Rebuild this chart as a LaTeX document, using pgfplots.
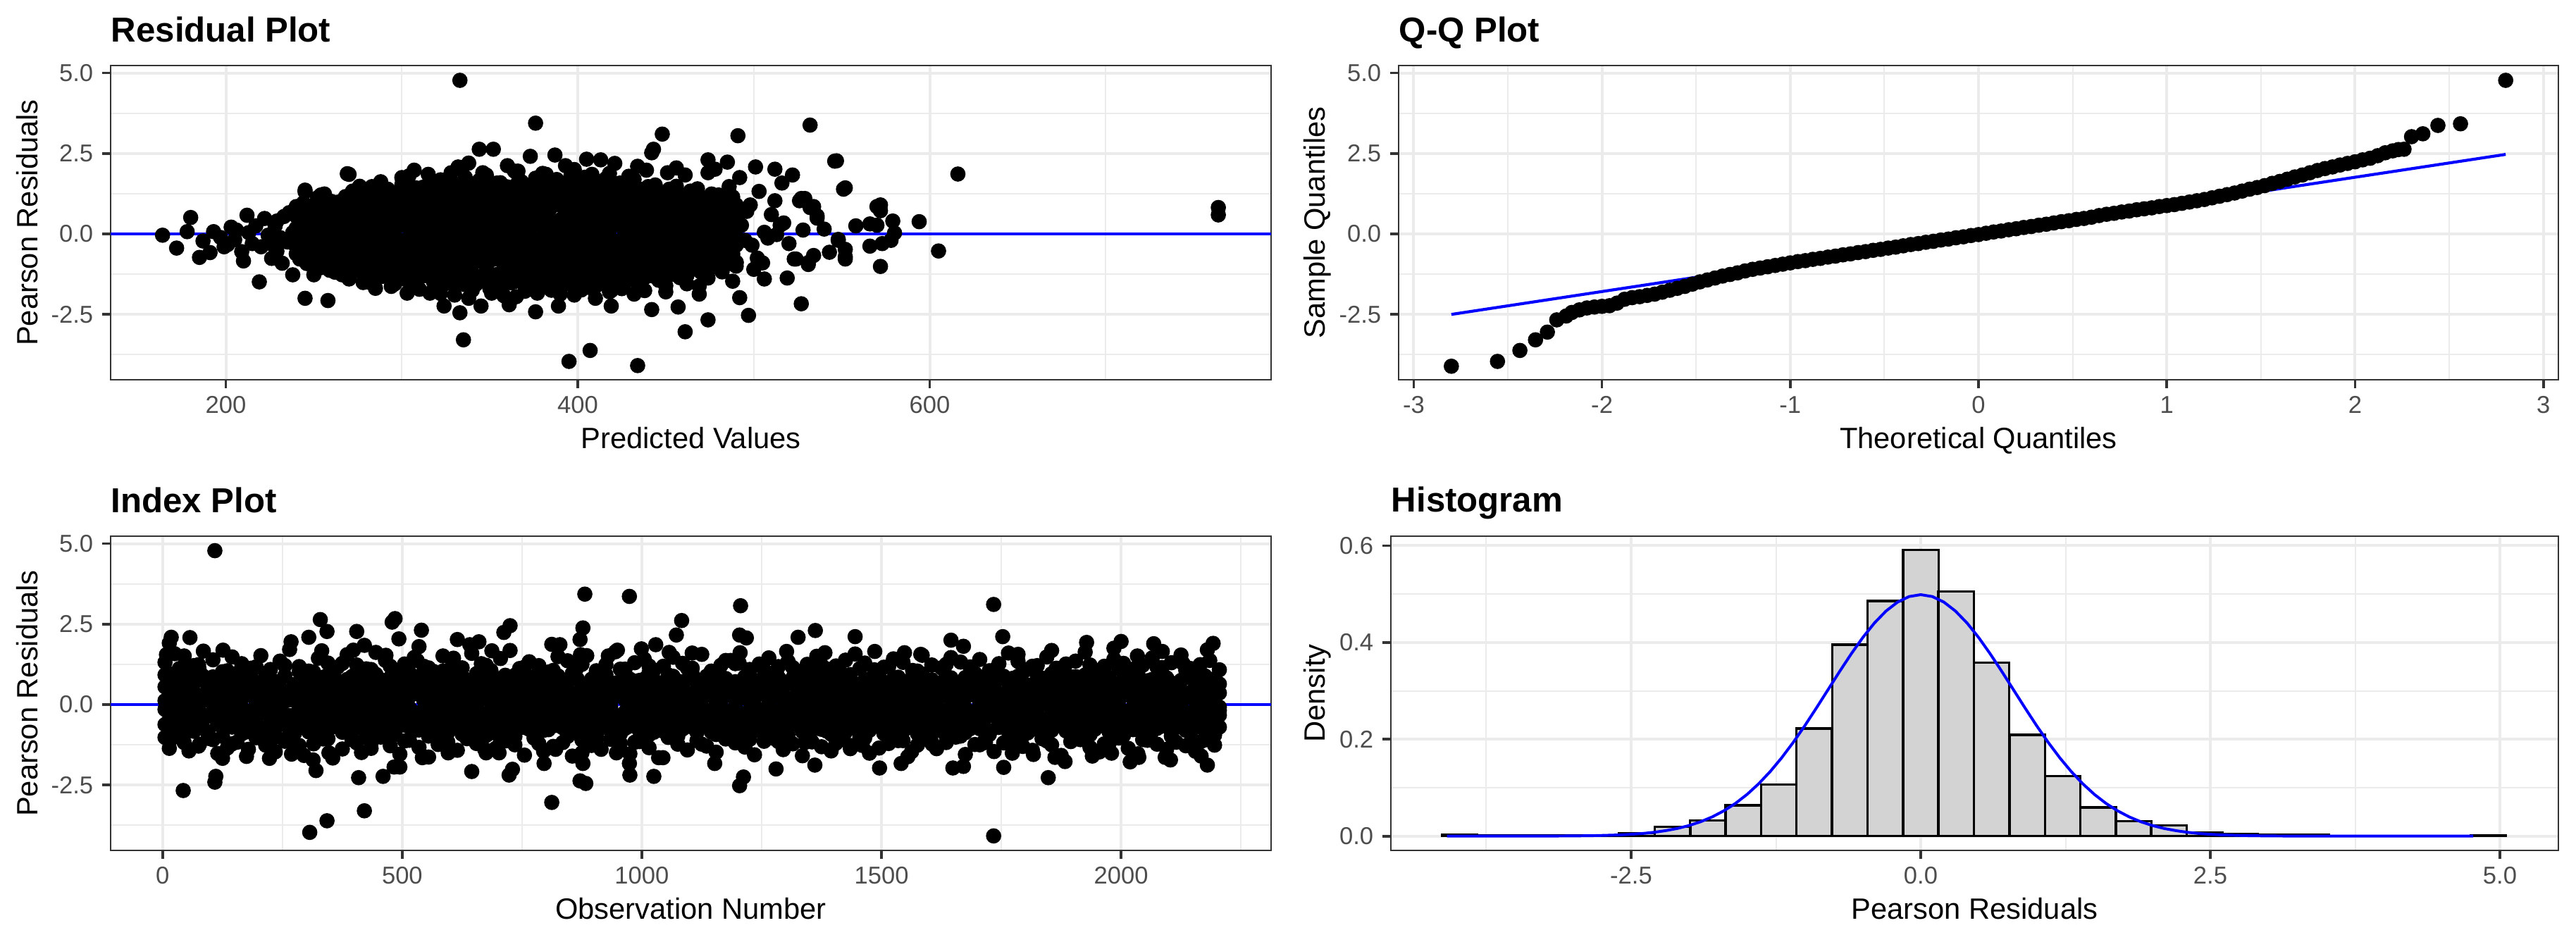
\documentclass[border=0pt]{standalone}
\usepackage{fontspec}
\setmainfont{Liberation Sans}
\usepackage{pgfplots}
\usepackage{pgfplotstable}
\pgfplotsset{compat=1.18}
\definecolor{grid92}{HTML}{EBEBEB}
\definecolor{grey20}{HTML}{333333}
\definecolor{grey30}{HTML}{4D4D4D}
\definecolor{histfill}{HTML}{D3D3D3}
\definecolor{rblue}{HTML}{0000FF}

\pgfplotsset{
  ggpanel/.style={
    scale only axis, anchor=south west, height=107.04pt,
    axis line style={draw=grey20, line width=0.6pt},
    tick pos=left, tick align=outside,
    major tick length=2.88pt, minor tick length=0pt,
    tick style={draw=grey20, line width=0.9pt},
    grid=both,
    major grid style={draw=grid92, line width=0.95pt},
    minor grid style={draw=grid92, line width=0.48pt},
    tick label style={font=\fontsize{8.3}{9}\selectfont, text=grey30, inner sep=0pt},
    xticklabel shift=2.64pt, yticklabel shift=2.88pt,
    label style={font=\fontsize{9.8}{11}\selectfont},
    title style={font=\bfseries\fontsize{11.8}{13}\selectfont, inner sep=0pt, anchor=base west, at={([yshift=2.16pt]axis description cs:0,1)}},
    every axis x label/.style={at={([yshift=-23.52pt]axis description cs:0.5,0)}, anchor=base, inner sep=0pt},
  },
  ylab/.style={every axis y label/.style={at={([xshift=-#1]axis description cs:0,0.5)}, anchor=base, rotate=90, inner sep=0pt}},
  pts/.style={only marks, mark=*, mark size=2.4pt, mark options={draw=none, fill=black}},
}

% Residual plot: predicted value, several residuals observed near that predicted value
\pgfplotstableread{
x a b c d e f g h
240 -0.62 -0.21 0.18 0.55 -0.40 0.85 -0.35 0.70
242 -0.74 -0.33 0.09 0.71 0.30 -0.78 -0.12 0.28
244 -0.48 -0.12 0.35 0.43 -0.66 0.96 -0.77 0.60
246 -0.69 -0.40 0.24 0.63 0.51 -0.92 -0.28 0.05
248 -0.55 -0.05 0.41 0.77 -0.18 0.74 -0.64 0.49
250 -0.79 -0.28 0.13 0.48 0.66 -0.70 -0.05 0.78
252 -0.93 -0.44 0.27 0.81 -0.52 1.12 -0.71 0.43
254 -0.58 -0.17 0.49 0.62 0.85 -1.05 -0.33 0.97
256 -0.81 -0.52 0.05 0.95 -0.09 1.24 -0.95 0.16
258 -0.66 -0.09 0.38 0.53 0.37 -0.94 -0.20 0.70
260 -0.99 -0.36 0.21 0.74 -0.76 1.01 -0.56 0.32
262 -0.50 -0.24 0.52 0.88 0.12 -1.19 -0.85 0.08
264 -0.87 -0.47 0.14 0.59 -0.33 0.90 -0.13 0.99
266 -1.12 -0.31 0.44 0.97 0.68 -1.27 -0.62 0.52
268 -0.70 -0.58 0.11 1.16 -0.95 1.05 -0.98 0.27
270 -0.95 -0.13 0.60 0.61 0.22 -1.40 -0.30 1.05
272 -1.18 -0.45 0.29 0.84 -0.51 1.33 -0.77 0.15
274 -0.60 -0.02 0.51 1.07 1.02 -1.10 -0.08 0.79
276 -0.88 -0.62 0.07 0.72 -0.15 1.48 -1.15 0.40
278 -1.05 -0.26 0.39 1.19 0.47 -1.22 -0.45 0.95
280 -0.77 -0.50 0.63 0.57 -1.08 1.15 -0.88 0.07
282 -1.28 -0.38 0.19 0.95 0.80 -1.51 -0.19 1.10
284 -0.66 -0.69 0.46 1.31 -0.36 1.20 -1.08 0.60
286 -1.02 -0.11 0.72 0.66 0.09 -1.30 -0.55 0.23
288 -1.33 -0.57 0.02 1.12 -0.82 1.62 -0.86 0.92
290 -0.79 -0.24 0.55 0.78 1.21 -1.18 -0.27 1.31
292 -1.15 -0.73 0.31 1.25 -0.55 1.39 -1.30 0.42
294 -0.91 -0.06 0.68 0.62 0.36 -1.63 -0.64 0.12
296 -1.24 -0.46 0.13 1.04 -1.17 1.28 -0.04 0.80
298 -0.70 -0.31 0.49 0.89 0.64 -1.22 -0.97 1.18
300 -1.07 -0.65 0.74 1.34 -0.23 1.53 -0.38 0.55
302 -1.41 -0.19 0.26 0.80 0.98 -1.37 -1.20 0.33
304 -0.82 -0.77 0.58 1.22 -0.71 1.80 -0.50 1.02
306 -1.19 -0.40 0.04 0.99 0.17 -1.58 -0.90 1.40
308 -1.48 -0.09 0.81 1.43 -1.32 1.34 -0.15 0.18
310 -0.93 -0.61 0.38 0.72 0.54 -1.72 -1.35 0.62
312 -1.30 -0.28 0.66 1.11 -0.42 1.45 -0.70 1.25
314 -0.74 -0.81 0.15 1.38 1.28 -1.30 -0.25 0.45
316 -1.11 -0.02 0.49 0.86 -0.88 1.66 -1.05 0.88
318 -1.45 -0.53 0.77 1.29 0.31 -1.49 -0.60 0.10
320 -0.87 -0.35 0.22 0.96 -0.06 1.38 -1.46 1.45
322 -1.24 -0.72 0.55 1.48 1.14 -1.85 -0.35 0.70
324 -1.56 -0.14 0.85 0.79 -0.61 1.42 -0.98 0.30
326 -0.81 -0.46 0.10 1.19 0.43 -1.40 -1.52 1.30
328 -1.37 -0.86 0.64 1.57 -1.29 1.90 -0.15 0.95
330 -1.02 -0.23 0.33 0.88 0.72 -1.62 -0.75 1.55
332 -1.50 -0.60 0.79 1.35 -0.27 1.51 -1.20 0.20
334 -0.76 -0.05 0.18 1.04 1.39 -1.46 -0.45 0.62
336 -1.19 -0.78 0.51 1.52 -0.84 1.76 -1.58 1.12
338 -1.59 -0.37 0.88 0.74 0.12 -2.00 -0.05 0.40
340 -0.95 -0.19 0.27 1.27 -1.47 1.44 -0.92 1.48
342 -1.31 -0.66 0.70 0.92 0.59 -1.57 -1.40 0.85
344 -0.84 -0.31 0.03 1.42 -0.39 1.66 -0.58 0.12
346 -1.46 -0.84 0.46 1.13 1.06 -1.41 -0.22 1.22
348 -1.07 -0.10 0.83 0.80 -0.98 1.83 -1.30 0.55
350 -1.55 -0.52 0.21 1.55 0.35 -1.70 -0.80 0.98
352 -0.79 -0.71 0.62 1.01 -0.12 1.47 -1.55 0.28
354 -1.26 -0.26 0.37 1.34 1.23 -1.49 -0.12 1.58
356 -1.60 -0.58 0.90 0.76 -0.69 1.59 -0.65 0.75
358 -0.98 -0.03 0.14 1.21 0.81 -1.92 -1.12 0.15
360 -1.36 -0.80 0.56 1.46 -1.18 1.41 -0.40 1.05
362 -0.86 -0.41 0.75 0.87 0.26 -1.52 -1.48 1.42
364 -1.48 -0.17 0.30 1.09 -0.47 1.95 -0.90 0.50
366 -1.13 -0.67 0.86 1.59 1.31 -1.44 -0.28 0.22
368 -0.77 -0.35 0.08 0.94 -0.91 1.62 -1.36 1.28
370 -1.42 -0.88 0.48 1.38 0.50 -1.78 -0.62 0.88
372 -1.03 -0.12 0.69 0.82 -0.22 1.50 -1.58 0.08
374 -1.57 -0.55 0.24 1.25 1.09 -1.60 -0.18 0.68
376 -0.90 -0.29 0.81 1.50 -1.36 1.73 -1.02 1.18
378 -1.28 -0.74 0.40 0.78 0.67 -1.46 -0.50 0.35
380 -0.82 -0.07 0.61 1.16 -0.55 1.88 -1.25 1.52
382 -1.51 -0.47 0.17 1.44 0.18 -1.66 -0.85 0.60
384 -1.16 -0.63 0.77 0.90 -1.05 1.45 -0.08 1.35
386 -0.94 -0.21 0.35 1.31 1.36 -1.53 -1.45 0.18
388 -1.39 -0.82 0.91 1.02 -0.30 1.69 -0.70 0.95
390 -1.58 -0.38 0.05 1.56 0.44 -1.87 -0.32 1.25
392 -0.78 -0.15 0.53 0.85 -0.80 1.40 -1.18 0.42
394 -1.21 -0.69 0.72 1.29 1.19 -1.42 -1.55 0.70
396 -1.47 -0.27 0.26 1.07 -0.16 1.79 -0.60 1.55
398 -0.88 -0.56 0.84 0.77 0.63 -1.58 -0.95 0.25
400 -1.33 -0.09 0.42 1.47 -1.25 1.52 -0.20 1.10
402 -1.05 -0.77 0.66 0.97 0.29 -1.74 -1.40 0.80
404 -1.54 -0.33 0.11 1.36 -0.58 1.43 -0.75 0.05
406 -0.80 -0.61 0.79 1.18 1.02 -1.50 -1.28 1.45
408 -1.25 -0.20 0.34 0.81 -0.95 1.85 -0.42 0.58
410 -1.45 -0.85 0.59 1.53 0.08 -1.63 -1.00 1.00
412 -0.96 -0.43 0.87 1.10 -0.39 1.56 -1.56 0.30
414 -1.37 -0.01 0.19 0.88 1.27 -1.45 -0.55 1.28
416 -0.85 -0.70 0.68 1.40 -1.12 1.72 -0.25 0.82
418 -1.52 -0.36 0.45 0.95 0.55 -1.80 -1.15 0.12
420 -1.12 -0.54 0.80 1.23 -0.26 1.47 -0.82 1.40
422 -1.40 -0.23 0.31 0.72 0.91 -1.35 -0.30 0.55
424 -0.75 -0.66 0.62 1.33 -0.70 1.58 -1.25 1.05
426 -1.18 -0.11 0.15 1.02 0.38 -1.62 -0.68 0.25
428 -1.43 -0.48 0.74 0.79 -1.28 1.33 -0.10 1.35
430 -0.89 -0.72 0.43 1.41 1.15 -1.40 -1.40 0.65
432 -1.29 -0.30 0.09 1.12 -0.44 1.69 -0.55 0.95
434 -0.70 -0.57 0.70 0.74 0.21 -1.54 -1.00 0.15
436 -1.10 -0.04 0.52 1.29 -0.89 1.38 -0.22 1.25
438 -1.36 -0.62 0.26 0.97 0.69 -1.76 -0.80 0.45
440 -0.83 -0.39 0.79 1.44 -0.12 1.47 -1.30 1.10
442 -1.22 -0.15 0.46 0.69 1.02 -1.30 -0.40 0.30
444 -0.64 -0.58 0.12 1.18 -0.63 1.52 -1.05 0.95
446 -1.05 -0.32 0.66 0.91 0.30 -1.44 -0.15 1.20
448 -1.29 -0.70 0.28 1.26 -1.10 1.21 -0.70 0.60
450 -0.76 -0.08 0.55 0.75 0.83 -1.61 -1.22 0.10
452 -1.13 -0.50 0.03 1.07 -0.31 1.39 -0.52 1.00
454 -0.92 -0.27 0.71 1.30 1.17 -1.25 -0.95 0.40
456 -1.26 -0.64 0.37 0.62 -0.77 1.48 -0.30 1.15
458 -0.68 -0.19 0.50 1.00 0.14 -1.36 -1.18 0.75
460 -1.04 -0.43 0.21 0.86 -0.55 1.17 -0.65 0.30
462 -0.59 -0.10 0.58 0.55 0.92 -1.29 -0.20 0.95
464 -0.87 -0.55 0.33 1.08 -0.20 1.33 -1.00 0.62
466 -1.09 -0.22 0.06 0.71 0.61 -1.06 -0.45 1.05
468 -0.63 -0.48 0.52 0.93 -0.97 1.40 -0.85 0.15
470 -0.96 -0.05 0.40 1.05 0.27 -1.19 -0.10 0.75
472 -0.71 -0.38 0.16 0.63 -0.64 1.11 -1.05 0.45
474 -1.01 -0.58 0.57 0.88 0.78 -1.37 -0.35 1.00
476 -0.55 -0.16 0.29 0.99 -0.41 1.24 -0.80 0.20
478 -0.70 -0.25 0.12 0.62 0.35 -1.02 -0.45 0.80
480 -0.52 -0.38 0.30 0.78 -0.80 0.95 -0.15 0.50
482 -0.85 -0.10 0.45 0.50 0.60 -1.10 -0.60 0.25
484 -0.45 -0.30 0.05 0.85 -0.20 1.05 -0.35 0.68
486 -0.78 -0.45 0.38 0.58 0.82 -0.92 -0.05 0.40
488 -0.60 -0.08 0.22 0.72 -0.65 1.15 -0.80 0.10
490 -0.88 -0.35 0.48 0.90 0.15 -1.00 -0.25 0.60
}\tabRes

% Index plot: observation number, several residuals near that observation
\pgfplotstableread{
x a b c d e g h
5 -0.62 0.12 0.55 -1.02 1.31 -0.15 0.92
15 -0.41 -0.22 0.78 0.95 -1.12 -0.88 0.21
25 -0.77 0.31 0.36 -0.48 1.58 -0.47 0.63
35 -0.33 -0.05 0.61 1.12 -0.98 -0.96 0.08
45 -0.58 0.19 0.84 -1.18 1.07 -0.29 0.47
55 -0.81 -0.29 0.42 0.27 -1.44 -0.63 0.99
65 -0.27 0.08 0.69 -0.83 1.21 -0.08 0.34
75 -0.69 -0.14 0.29 1.24 -1.29 -0.74 0.76
85 -0.46 0.26 0.88 -0.35 1.66 -0.39 0.13
95 -0.84 -0.33 0.51 0.71 -1.05 -0.91 0.55
105 -0.38 0.02 0.73 -1.09 1.39 -0.21 0.86
115 -0.55 0.34 0.33 0.46 -1.52 -0.57 0.29
125 -0.72 -0.18 0.64 -0.66 1.02 -0.99 0.68
135 -0.29 0.15 0.47 1.05 -1.35 -0.33 0.05
145 -0.64 -0.26 0.86 -1.22 1.48 -0.70 0.41
155 -0.51 0.22 0.39 0.18 -1.17 -0.12 0.97
165 -0.79 -0.09 0.58 -0.91 1.27 -0.52 0.18
175 -0.35 0.29 0.76 0.88 -1.61 -0.85 0.59
185 -0.66 -0.31 0.31 -0.24 1.13 -0.26 0.83
195 -0.43 0.05 0.67 1.17 -1.03 -0.66 0.24
205 -0.83 -0.20 0.45 -0.73 1.52 -0.05 0.51
215 -0.26 0.32 0.82 0.39 -1.26 -0.79 0.95
225 -0.60 -0.11 0.35 -1.14 1.09 -0.43 0.10
235 -0.74 0.17 0.71 0.62 -1.47 -0.95 0.72
245 -0.31 -0.27 0.53 -0.42 1.35 -0.18 0.38
255 -0.57 0.10 0.89 1.21 -1.14 -0.61 0.88
265 -0.80 -0.34 0.40 -0.97 1.71 -0.36 0.15
275 -0.40 0.24 0.62 0.13 -1.31 -0.90 0.62
285 -0.68 -0.02 0.27 -1.27 1.18 -0.10 1.02
295 -0.49 0.30 0.79 0.82 -1.58 -0.55 0.27
305 -0.85 -0.16 0.49 -0.58 1.04 -0.77 0.80
315 -0.30 0.07 0.66 1.01 -1.22 -0.24 0.45
325 -0.63 -0.24 0.37 -0.19 1.44 -0.97 0.07
335 -0.45 0.27 0.85 0.54 -1.07 -0.45 0.66
345 -0.76 -0.07 0.56 -1.06 1.29 -0.14 0.92
355 -0.36 0.13 0.30 0.93 -1.66 -0.69 0.32
365 -0.59 -0.30 0.74 -0.37 1.16 -0.31 0.56
375 -0.82 0.21 0.43 1.28 -1.38 -0.86 0.11
385 -0.28 -0.12 0.63 -0.85 1.55 -0.50 0.78
395 -0.53 0.33 0.87 0.31 -1.09 -0.07 0.22
405 -0.71 -0.21 0.34 -1.19 1.23 -0.73 1.00
415 -0.42 0.04 0.70 0.67 -1.49 -0.41 0.48
425 -0.67 0.25 0.52 -0.52 1.11 -0.93 0.19
435 -0.32 -0.28 0.80 1.09 -1.19 -0.20 0.70
445 -0.78 0.11 0.38 -0.29 1.62 -0.59 0.94
455 -0.48 -0.19 0.60 0.77 -1.01 -0.82 0.36
465 -0.61 0.28 0.28 -0.94 1.37 -0.16 0.61
475 -0.37 -0.04 0.83 1.19 -1.28 -0.48 0.06
485 -0.84 0.18 0.46 -0.62 1.08 -0.94 0.84
495 -0.52 -0.32 0.68 0.41 -1.54 -0.27 0.40
505 -0.25 0.09 0.41 -1.13 1.26 -0.64 0.99
515 -0.70 -0.15 0.77 0.99 -1.11 -0.11 0.25
525 -0.44 0.35 0.57 -0.46 1.46 -0.80 0.57
535 -0.79 -0.25 0.32 0.58 -1.33 -0.37 0.87
545 -0.34 0.14 0.72 -0.79 1.19 -0.58 0.14
555 -0.65 -0.06 0.48 1.14 -1.63 -0.98 0.46
565 -0.50 0.23 0.84 -0.21 1.03 -0.22 0.74
575 -0.83 -0.35 0.36 0.84 -1.24 -0.68 0.31
585 -0.39 0.01 0.65 -1.24 1.51 -0.44 1.04
595 -0.56 0.29 0.44 0.22 -1.16 -0.87 0.09
605 -0.73 -0.13 0.81 -0.68 1.32 -0.13 0.65
615 -0.29 0.19 0.54 1.03 -1.42 -0.53 0.37
625 -0.62 -0.23 0.29 -0.33 1.14 -0.92 0.89
635 -0.47 0.06 0.75 0.66 -1.06 -0.30 0.17
645 -0.81 0.32 0.50 -1.01 1.59 -0.06 0.53
655 -0.33 -0.10 0.63 0.37 -1.21 -0.75 0.96
665 -0.58 0.16 0.88 -0.55 1.27 -0.40 0.26
675 -0.75 -0.29 0.39 1.22 -1.50 -0.96 0.71
685 -0.41 0.26 0.59 -0.88 1.06 -0.17 0.12
695 -0.69 -0.01 0.78 0.15 -1.36 -0.62 0.82
705 -0.27 0.12 0.33 -1.16 1.43 -0.84 0.43
715 -0.54 -0.33 0.69 0.91 -1.13 -0.25 0.64
725 -0.85 0.20 0.47 -0.40 1.68 -0.49 0.08
735 -0.36 -0.17 0.82 0.72 -1.25 -0.99 0.91
745 -0.64 0.34 0.37 -0.72 1.12 -0.09 0.35
755 -0.46 -0.08 0.61 1.16 -1.57 -0.71 0.58
765 -0.77 0.24 0.86 -0.26 1.33 -0.35 0.19
775 -0.31 -0.26 0.42 0.49 -1.04 -0.89 0.77
785 -0.60 0.03 0.66 -1.21 1.21 -0.19 1.01
795 -0.80 0.30 0.31 0.80 -1.45 -0.56 0.28
805 -0.43 -0.20 0.74 -0.61 1.01 -0.78 0.50
815 -0.66 0.13 0.55 1.06 -1.30 -0.04 0.85
825 -0.26 -0.31 0.89 -0.16 1.49 -0.65 0.16
835 -0.72 0.21 0.40 0.58 -1.18 -0.42 0.69
845 -0.52 -0.05 0.70 -0.99 1.36 -0.95 0.39
855 -0.84 0.27 0.35 0.34 -1.60 -0.23 0.97
865 -0.37 -0.14 0.80 -0.45 1.15 -0.60 0.04
875 -0.61 0.08 0.52 1.25 -1.10 -0.83 0.60
885 -0.45 -0.27 0.64 -0.81 1.52 -0.14 0.33
895 -0.78 0.33 0.28 0.63 -1.27 -0.51 0.79
905 -0.30 -0.09 0.76 -1.10 1.05 -0.97 0.23
915 -0.68 0.18 0.46 0.95 -1.39 -0.32 0.54
925 -0.49 -0.22 0.83 -0.30 1.24 -0.72 0.93
935 -0.82 0.05 0.38 0.45 -1.08 -0.08 0.13
945 -0.35 0.29 0.67 -0.70 1.64 -0.46 0.67
955 -0.57 -0.34 0.51 1.10 -1.20 -0.91 0.44
965 -0.74 0.15 0.87 -0.23 1.10 -0.28 0.86
975 -0.40 -0.11 0.34 0.79 -1.53 -0.67 0.10
985 -0.63 0.25 0.72 -1.17 1.30 -0.12 0.52
995 -0.28 -0.24 0.45 0.26 -1.15 -0.81 0.75
1005 -0.80 0.07 0.79 -0.51 1.41 -0.38 0.30
1015 -0.50 0.31 0.58 1.20 -1.34 -0.94 0.98
1025 -0.67 -0.18 0.30 -0.86 1.07 -0.21 0.21
1035 -0.38 0.10 0.68 0.53 -1.65 -0.57 0.63
1045 -0.83 -0.29 0.49 -0.38 1.19 -0.76 0.06
1055 -0.44 0.22 0.85 0.92 -1.02 -0.06 0.42
1065 -0.59 -0.03 0.36 -1.03 1.47 -0.43 0.88
1075 -0.32 0.35 0.73 0.19 -1.23 -0.98 0.27
1085 -0.76 -0.16 0.56 -0.64 1.28 -0.30 0.71
1095 -0.54 0.12 0.27 1.13 -1.41 -0.63 0.15
1105 -0.70 -0.25 0.81 -0.18 1.13 -0.11 0.95
1115 -0.27 0.20 0.43 0.70 -1.12 -0.86 0.48
1125 -0.64 -0.07 0.65 -1.23 1.56 -0.48 0.20
1135 -0.47 0.28 0.88 0.36 -1.29 -0.18 0.61
1145 -0.85 -0.32 0.39 -0.78 1.04 -0.70 1.03
1155 -0.39 0.04 0.62 1.01 -1.48 -0.93 0.34
1165 -0.62 0.17 0.47 -0.43 1.22 -0.26 0.09
1175 -0.79 -0.21 0.77 0.60 -1.07 -0.54 0.81
1185 -0.34 0.30 0.32 -0.92 1.37 -0.80 0.55
1195 -0.56 -0.12 0.71 1.27 -1.19 -0.07 0.17
1205 -0.73 0.23 0.53 -0.27 1.61 -0.44 0.64
1215 -0.42 -0.28 0.86 0.85 -1.32 -0.97 0.40
1225 -0.66 0.09 0.35 -1.08 1.09 -0.34 0.90
1235 -0.29 -0.04 0.60 0.44 -1.56 -0.68 0.24
1245 -0.81 0.32 0.75 -0.57 1.26 -0.15 0.50
1255 -0.48 -0.19 0.41 1.08 -1.14 -0.88 0.74
1265 -0.60 0.14 0.69 -0.34 1.45 -0.52 0.05
1275 -0.36 -0.30 0.50 0.76 -1.05 -0.23 0.97
1285 -0.77 0.26 0.84 -1.15 1.18 -0.73 0.37
1295 -0.53 -0.08 0.31 0.28 -1.40 -0.40 0.58
1305 -0.69 0.19 0.66 -0.69 1.34 -0.96 0.14
1315 -0.31 -0.23 0.80 1.15 -1.22 -0.10 0.83
1325 -0.63 0.02 0.45 -0.20 1.02 -0.61 0.45
1335 -0.84 0.33 0.57 0.69 -1.59 -0.29 0.22
1345 -0.40 -0.15 0.73 -0.95 1.25 -0.83 0.69
1355 -0.58 0.11 0.37 0.32 -1.16 -0.47 1.00
1365 -0.74 -0.26 0.87 -0.49 1.50 -0.05 0.31
1375 -0.33 0.27 0.54 1.22 -1.31 -0.77 0.60
1385 -0.65 -0.02 0.29 -0.82 1.11 -0.36 0.11
1395 -0.46 0.16 0.78 0.55 -1.44 -0.92 0.87
1405 -0.82 -0.33 0.48 -1.20 1.20 -0.20 0.43
1415 -0.37 0.08 0.67 0.98 -1.09 -0.58 0.66
1425 -0.55 0.29 0.40 -0.25 1.38 -0.85 0.18
1435 -0.71 -0.20 0.82 0.43 -1.27 -0.13 0.93
1445 -0.28 0.13 0.59 -0.74 1.57 -0.50 0.35
1455 -0.61 -0.10 0.34 1.12 -1.03 -0.99 0.57
1465 -0.49 0.24 0.76 -1.04 1.29 -0.27 0.08
1475 -0.80 -0.27 0.52 0.20 -1.51 -0.66 0.79
1485 -0.35 0.06 0.89 -0.40 1.08 -0.42 0.47
1495 -0.67 0.31 0.38 0.87 -1.35 -0.09 0.99
1505 -0.43 -0.13 0.64 -0.90 1.16 -0.79 0.26
1515 -0.76 0.21 0.46 1.18 -1.21 -0.33 0.62
1525 -0.30 -0.34 0.81 -0.31 1.42 -0.95 0.13
1535 -0.57 0.03 0.33 0.61 -1.12 -0.55 0.85
1545 -0.83 0.18 0.70 -1.12 1.31 -0.17 0.39
1555 -0.41 -0.22 0.56 0.29 -1.62 -0.72 0.70
1565 -0.64 0.10 0.85 -0.60 1.06 -0.39 0.03
1575 -0.26 0.34 0.43 1.04 -1.26 -0.90 0.53
1585 -0.72 -0.06 0.63 -0.37 1.53 -0.24 0.95
1595 -0.51 0.22 0.30 0.74 -1.08 -0.62 0.29
1605 -0.79 -0.30 0.77 -1.18 1.23 -0.06 0.76
1615 -0.38 0.14 0.51 0.40 -1.37 -0.81 0.16
1625 -0.60 -0.17 0.68 -0.80 1.14 -0.45 0.49
1635 -0.45 0.28 0.36 1.25 -1.18 -0.98 0.89
1645 -0.85 0.00 0.83 -0.22 1.46 -0.31 0.23
1655 -0.32 -0.24 0.48 0.65 -1.01 -0.69 0.61
1665 -0.68 0.19 0.62 -0.98 1.32 -0.14 0.07
1675 -0.50 -0.11 0.27 0.35 -1.55 -0.87 0.84
1685 -0.75 0.30 0.74 -0.53 1.17 -0.49 0.41
1695 -0.36 -0.29 0.58 0.89 -1.24 -0.22 0.97
1705 -0.62 0.07 0.86 -1.25 1.40 -0.75 0.19
1715 -0.44 0.23 0.40 0.50 -1.13 -0.41 0.55
1725 -0.81 -0.18 0.71 -0.35 1.05 -0.93 0.78
1735 -0.29 0.12 0.55 1.07 -1.46 -0.11 0.33
1745 -0.58 -0.32 0.32 -0.71 1.27 -0.64 0.05
1755 -0.70 0.26 0.80 0.24 -1.19 -0.34 0.88
1765 -0.40 -0.04 0.44 -1.07 1.60 -0.84 0.46
1775 -0.66 0.17 0.67 0.82 -1.10 -0.19 0.68
1785 -0.33 -0.21 0.88 -0.28 1.34 -0.56 0.14
1795 -0.84 0.33 0.35 0.57 -1.30 -0.97 1.01
1805 -0.52 -0.09 0.61 -0.88 1.09 -0.28 0.37
1815 -0.77 0.20 0.49 1.19 -1.42 -0.71 0.59
1825 -0.27 -0.26 0.79 -0.44 1.21 -0.08 0.20
1835 -0.63 0.05 0.38 0.71 -1.06 -0.53 0.82
1845 -0.47 0.31 0.65 -1.13 1.48 -0.89 0.44
1855 -0.80 -0.14 0.53 0.16 -1.25 -0.37 0.96
1865 -0.35 0.15 0.84 -0.63 1.13 -0.60 0.10
1875 -0.59 -0.30 0.29 1.00 -1.58 -0.16 0.63
1885 -0.73 0.24 0.73 -0.19 1.26 -0.82 0.32
1895 -0.42 -0.07 0.46 0.46 -1.15 -0.44 0.86
1905 -0.65 0.11 0.87 -1.01 1.35 -0.03 0.25
1915 -0.31 -0.23 0.41 0.84 -1.09 -0.78 0.51
1925 -0.82 0.28 0.60 -0.50 1.63 -0.32 0.92
1935 -0.54 -0.02 0.76 1.23 -1.33 -0.94 0.15
1945 -0.69 0.18 0.33 -0.77 1.07 -0.25 0.72
1955 -0.38 -0.33 0.69 0.33 -1.47 -0.67 0.38
1965 -0.61 0.09 0.52 -1.22 1.19 -0.12 0.99
1975 -0.85 0.25 0.82 0.66 -1.20 -0.51 0.04
1985 -0.46 -0.16 0.39 -0.32 1.41 -0.86 0.65
1995 -0.71 0.13 0.63 1.11 -1.04 -0.38 0.28
2005 -0.28 -0.27 0.47 -0.86 1.28 -0.96 0.81
2015 -0.57 0.32 0.85 0.52 -1.36 -0.20 0.47
2025 -0.78 -0.10 0.30 -0.41 1.10 -0.65 0.17
2035 -0.41 0.21 0.72 0.94 -1.53 -0.46 0.91
2045 -0.64 -0.25 0.57 -1.09 1.22 -0.09 0.35
2055 -0.34 0.04 0.35 0.38 -1.11 -0.88 0.74
2065 -0.83 0.29 0.78 -0.66 1.45 -0.30 0.12
2075 -0.49 -0.19 0.50 1.16 -1.23 -0.74 0.58
2085 -0.67 0.16 0.66 -0.24 1.15 -0.55 0.97
2095 -0.30 -0.31 0.83 0.78 -1.39 -0.15 0.22
2105 -0.74 0.08 0.42 -0.96 1.30 -0.99 0.67
2115 -0.53 0.27 0.60 0.30 -1.17 -0.35 0.43
2125 -0.39 -0.12 0.75 -0.55 1.54 -0.70 0.06
2135 -0.80 0.22 0.37 1.06 -1.28 -0.23 0.84
2145 -0.60 -0.28 0.86 -0.83 1.12 -0.91 0.30
2155 -0.36 0.12 0.54 0.60 -1.45 -0.47 0.62
2165 -0.70 -0.05 0.68 -1.16 1.24 -0.10 0.95
2175 -0.44 0.30 0.31 0.89 -1.10 -0.80 0.18
2185 -0.82 -0.22 0.79 -0.38 1.37 -0.42 0.52
2195 -0.55 0.17 0.48 0.47 -1.26 -0.95 0.77
2205 -0.33 -0.08 0.64 -0.70 1.08 -0.18 0.36
}\tabIdx

\begin{document}
\begin{tikzpicture}
\useasboundingbox (0,0) rectangle (877.44pt,320.88pt);

% ---------------- Residual Plot ----------------
\begin{axis}[ggpanel, ylab=24.96pt, at={(37.68pt,191.52pt)}, width=395.28pt,
  xmin=134.5, xmax=794, ymin=-4.53, ymax=5.23,
  xtick={200,400,600}, xticklabels={200,400,600}, minor xtick={300,500,700},
  ytick={-2.5,0,2.5,5}, yticklabels={-2.5,0.0,2.5,5.0}, minor ytick={-3.75,-1.25,1.25,3.75},
  title={Residual Plot}, xlabel={Predicted Values}, ylabel={Pearson Residuals}]
\addplot[pts] table[x=x,y=a] {\tabRes};
\addplot[pts] table[x=x,y=b] {\tabRes};
\addplot[pts] table[x=x,y=c] {\tabRes};
\addplot[pts] table[x=x,y=d] {\tabRes};
\addplot[pts] table[x=x,y=e] {\tabRes};
\addplot[pts] table[x=x,y=f] {\tabRes};
\addplot[pts] table[x=x,y=g] {\tabRes};
\addplot[pts] table[x=x,y=h] {\tabRes};
\addplot[pts] coordinates {
(164,-0.04) (172,-0.44) (178,0.07) (180,0.51) (185,-0.73) (187,-0.22) (191,-0.58) (193,0.07) (197,-0.11) (199,-0.40)
(201,-0.33) (203,0.21) (205,-0.18) (206,0.12) (209,-0.55) (210,-0.84) (212,0.58) (213,0.04) (215,-0.30) (217,0.25)
(219,-1.49) (220,-0.40) (222,0.48) (224,-0.04) (226,-0.76) (227,-0.35) (228,0.25) (229,-0.54) (229,0.40) (231,-0.12)
(232,-0.91) (233,0.54) (235,-0.25) (236,0.66) (238,0.04) (238,-1.27) (240,0.76) (242,-0.76) (245,1.31) (245,0.91)
(245,-2.00) (250,-1.27) (254,1.16) (258,-2.07) (259,-1.13) (270,1.85) (283,1.47) (269,1.87) (245,1.36) (254,1.21)
(307,1.98) (322,1.68) (332,2.08) (346,1.90) (360,2.12) (373,2.41) (387,2.45) (393,2.12) (404,1.76) (405,2.32)
(413,2.30) (421,2.19) (429,1.79) (439,1.98) (442,2.52) (443,2.63) (451,1.90) (461,1.83) (474,1.90) (474,2.30)
(478,2.01) (485,2.23) (344,2.63) (352,2.63) (333,4.77) (376,3.44) (448,3.10) (491,3.05) (532,3.38) (300,1.75)
(315,1.85) (338,2.20) (366,1.95) (382,1.85) (398,2.00) (418,1.88) (434,2.10) (456,2.05)
(486,1.47) (480,1.21) (488,1.07) (496,0.70) (493,0.27) (501,2.08) (503,1.32) (506,0.05) (508,-0.13) (512,2.01)
(512,1.03) (515,0.27) (516,1.58) (517,0.34) (522,1.83) (526,1.03) (527,1.10) (528,0.12) (529,1.10) (534,0.85)
(536,0.56) (536,0.49) (532,0.82) (546,2.26) (547,2.27) (548,-0.17) (548,-0.20) (551,1.39) (552,1.43) (552,-0.71)
(552,-0.48) (552,-0.78) (543,-0.57) (534,-0.67) (531,-0.95) (523,-0.78) (527,-2.17) (513,-0.02) (566,-0.38) (566,0.31)
(570,0.27) (570,0.85) (572,0.90) (572,0.72) (572,-1.01) (573,-0.30) (578,-0.20) (579,0.40) (580,0.03) (594,0.38)
(605,-0.53) (616,1.86) (764,0.82) (764,0.59) (499,-0.35) (502,-0.75) (490,-0.89) (524,-0.78) (531,-0.89) (506,-1.40)
(519,-1.37) (497,-2.53) (492,-1.98) (488,-1.47) (482,-1.18) (490,0.50) (484,-0.40) (498,0.90) (505,-0.90) (510,0.60)
(495,-0.20) (480,0.75) (478,-0.65) (485,0.15) (492,1.75) (500,-1.10) (520,-0.30) (540,0.15) (558,0.25)
(474,-2.67) (461,-3.04) (407,-3.62) (395,-3.96) (434,-4.09) (335,-3.29) (457,-2.27) (442,-2.35) (419,-2.24) (376,-2.42)
(333,-2.45) (324,-2.24) (303,-1.84) (389,-2.24) (361,-2.20) (345,-2.24) (469,-1.87) (469,-1.62) (432,-1.87) (419,-1.76)
(406,-1.66) (377,-1.84) (351,-1.84) (316,-1.84) (285,-1.69) (278,-1.51) (296,-1.55) (330,-1.90) (365,-1.95) (398,-1.90)
(425,-1.70) (450,-1.80) (462,-1.55) (340,-1.75) (385,-1.75) (410,-2.00)
};
\addplot[rblue, line width=1pt] coordinates {(134.5,0) (794,0)};
\end{axis}

% ---------------- Q-Q Plot ----------------
\begin{axis}[ggpanel, ylab=25.2pt, at={(476.4pt,191.52pt)}, width=395.04pt,
  xmin=-3.08, xmax=3.08, ymin=-4.53, ymax=5.23,
  xtick={-3,-2,-1,0,1,2,3}, xticklabels={-3,-2,-1,0,1,2,3}, minor xtick={-2.5,-1.5,-0.5,0.5,1.5,2.5},
  ytick={-2.5,0,2.5,5}, yticklabels={-2.5,0.0,2.5,5.0}, minor ytick={-3.75,-1.25,1.25,3.75},
  title={Q-Q Plot}, xlabel={Theoretical Quantiles}, ylabel={Sample Quantiles}]
\addplot[pts] coordinates {
(-2.80,-4.11) (-2.555,-3.96) (-2.436,-3.62) (-2.353,-3.29) (-2.29,-3.05) (-2.24,-2.67) (-2.19,-2.55) (-2.16,-2.44) (-2.12,-2.36) (-2.08,-2.30)
(-2.04,-2.27) (-2.00,-2.25) (-1.96,-2.23) (-1.92,-2.15) (-1.88,-2.03) (-1.84,-1.98) (-1.80,-1.95) (-1.76,-1.91) (-1.72,-1.87) (-1.68,-1.81)
(-1.64,-1.75) (-1.60,-1.69) (-1.56,-1.63) (-1.52,-1.56) (-1.48,-1.49) (-1.44,-1.43) (-1.40,-1.37) (-1.36,-1.31) (-1.32,-1.26) (-1.28,-1.21)
(-1.24,-1.15) (-1.20,-1.10) (-1.16,-1.06) (-1.12,-1.02) (-1.08,-0.98) (-1.04,-0.94) (-1.00,-0.90) (-0.96,-0.86)
(-0.92,-0.83) (-0.88,-0.79) (-0.84,-0.76) (-0.80,-0.72) (-0.76,-0.69) (-0.72,-0.65) (-0.68,-0.62) (-0.64,-0.58) (-0.60,-0.55) (-0.56,-0.51)
(-0.52,-0.48) (-0.48,-0.44) (-0.44,-0.41) (-0.40,-0.37) (-0.36,-0.33) (-0.32,-0.30) (-0.28,-0.26) (-0.24,-0.23) (-0.20,-0.19) (-0.16,-0.16)
(-0.12,-0.12) (-0.08,-0.09) (-0.04,-0.05) (0.00,-0.02) (0.04,0.02) (0.08,0.06) (0.12,0.09) (0.16,0.13) (0.20,0.16) (0.24,0.20)
(0.28,0.23) (0.32,0.27) (0.36,0.30) (0.40,0.34) (0.44,0.38) (0.48,0.41) (0.52,0.45) (0.56,0.48) (0.60,0.52) (0.64,0.57)
(0.68,0.61) (0.72,0.64) (0.76,0.68) (0.80,0.71) (0.84,0.75) (0.88,0.78) (0.92,0.81) (0.96,0.85) (1.00,0.88) (1.04,0.91)
(1.08,0.95) (1.12,0.99) (1.16,1.03) (1.20,1.07) (1.24,1.12) (1.28,1.17) (1.32,1.22) (1.36,1.27) (1.40,1.33) (1.44,1.39)
(1.48,1.44) (1.52,1.50) (1.56,1.57) (1.60,1.63) (1.64,1.70) (1.68,1.77) (1.72,1.83) (1.76,1.90) (1.80,1.97) (1.84,2.03)
(1.88,2.08) (1.92,2.14) (1.96,2.19) (2.00,2.24) (2.04,2.30) (2.08,2.35) (2.12,2.43) (2.16,2.52) (2.20,2.58) (2.23,2.62)
(2.26,2.63) (2.30,3.02) (2.36,3.11) (2.44,3.37) (2.56,3.42) (2.80,4.77)
};
\addplot[rblue, line width=1pt] coordinates {(-2.80,-2.50) (2.80,2.47)};
\end{axis}

% ---------------- Index Plot ----------------
\begin{axis}[ggpanel, ylab=24.96pt, at={(37.68pt,31.2pt)}, width=395.28pt,
  xmin=-108.5, xmax=2313, ymin=-4.53, ymax=5.23,
  xtick={0,500,1000,1500,2000}, xticklabels={0,500,1000,1500,2000}, minor xtick={250,750,1250,1750,2250},
  ytick={-2.5,0,2.5,5}, yticklabels={-2.5,0.0,2.5,5.0}, minor ytick={-3.75,-1.25,1.25,3.75},
  title={Index Plot}, xlabel={Observation Number}, ylabel={Pearson Residuals}]
\addplot[pts] table[x=x,y=a] {\tabIdx};
\addplot[pts] table[x=x,y=b] {\tabIdx};
\addplot[pts] table[x=x,y=c] {\tabIdx};
\addplot[pts] table[x=x,y=d] {\tabIdx};
\addplot[pts] table[x=x,y=e] {\tabIdx};
\addplot[pts] table[x=x,y=g] {\tabIdx};
\addplot[pts] table[x=x,y=h] {\tabIdx};
\addplot[pts] coordinates {
(109,4.78) (14,1.91) (18,2.09) (8,1.55) (45,1.51) (57,2.08) (126,1.69) (76,1.11) (43,-2.67) (109,-2.41)
(111,-2.23) (14,-1.36) (77,-1.23) (125,-1.67) (223,-1.67) (179,-1.39) (268,1.95) (305,2.09) (329,2.64) (343,2.27)
(332,1.67) (405,2.27) (421,1.84) (398,1.69) (466,1.53) (479,2.56) (485,2.67) (493,2.04) (540,2.31) (535,1.80)
(531,1.37) (307,-3.97) (343,-3.61) (421,-3.30) (409,-2.27) (460,-2.23) (483,-1.94) (495,-1.94) (320,-2.05) (314,-1.72)
(269,-1.54) (347,-1.50) (435,-1.36) (542,-1.65) (596,-1.50) (615,2.02) (607,1.44) (641,1.86) (660,1.95) (687,1.67)
(712,2.24) (725,2.45) (645,-2.08) (672,-1.39) (702,-1.50) (723,-2.19) (730,-2.01) (796,-1.83) (812,-3.04) (820,-1.39)
(812,1.87) (829,1.86) (881,3.43) (877,2.38) (871,2.02) (872,1.55) (871,-2.37) (883,-2.45) (877,-1.83) (875,-1.50)
(974,3.36) (975,-2.19) (974,-1.83) (1025,-2.23) (930,1.51) (949,1.69) (999,1.73) (1029,1.86) (1072,2.16) (1083,2.61)
(1057,1.62) (1105,1.60) (1206,3.07) (1204,2.16) (1218,2.07) (1203,1.29) (1175,1.37) (1152,-1.83) (1204,-2.52) (1212,-2.25)
(1044,-1.65) (947,-1.50) (1734,3.11) (1362,2.30) (1326,2.09) (1445,2.11) (1753,2.11) (2000,1.96) (1645,2.00) (1928,1.93)
(2192,1.90) (1671,1.81) (1855,1.68) (1734,-4.08) (1280,-2.00) (1361,-1.88) (1496,-1.97) (1541,-1.83) (1649,-1.97) (1671,-1.92)
(1755,-1.95) (1848,-2.27) (1883,-1.77) (1940,-1.60) (2019,-1.78) (2180,-1.88) (2103,-1.72) (1302,1.65) (1382,1.61) (1486,1.65)
(1548,1.61) (1582,1.56) (1785,1.56) (1985,1.75) (2034,1.51) (2068,1.89) (2086,1.65) (2180,1.70) (2129,1.28) (1460,-1.27)
(1563,-1.46) (1717,-1.18) (1773,-1.51) (1817,-1.55) (1862,-1.64) (1980,-1.51) (2037,-1.64) (2092,-1.64) (2141,-1.27) (2167,-1.60)
(1435,-1.37) (1340,-1.18) (1606,-1.23)
};
\addplot[rblue, line width=1pt] coordinates {(-108.5,0) (2313,0)};
\end{axis}

% ---------------- Histogram ----------------
\begin{axis}[ggpanel, ylab=22.56pt, at={(473.76pt,31.2pt)}, width=397.68pt,
  xmin=-4.574, xmax=5.505, ymin=-0.0295, ymax=0.6195,
  xtick={-2.5,0,2.5,5}, xticklabels={-2.5,0.0,2.5,5.0}, minor xtick={-3.75,-1.25,1.25,3.75},
  ytick={0,0.2,0.4,0.6}, yticklabels={0.0,0.2,0.4,0.6}, minor ytick={0.1,0.3,0.5},
  title={Histogram}, xlabel={Pearson Residuals}, ylabel={Density}]
\addplot[ybar, bar width=0.3062, fill=histfill, draw=black, line width=0.8pt] coordinates {
(-3.981,0.0030) (-3.674,0.0015) (-3.368,0.0015) (-3.062,0.0015) (-2.756,0.0015) (-2.450,0.0059)
(-2.143,0.0193) (-1.837,0.0326) (-1.531,0.0637) (-1.225,0.1066) (-0.919,0.2222) (-0.612,0.3955)
(-0.306,0.4858) (0.000,0.5910) (0.306,0.5051) (0.612,0.3585) (0.919,0.2089) (1.225,0.1244)
(1.531,0.0592) (1.837,0.0311) (2.143,0.0222) (2.450,0.0074) (2.756,0.0044) (3.062,0.0030)
(3.368,0.0030) (3.674,0.0000) (3.981,0.0000) (4.287,0.0000) (4.593,0.0000) (4.899,0.0015)
};
\addplot[rblue, line width=0.95pt] coordinates {
(-4.09,0.0000) (-3.6,0.00002) (-3.3,0.0001) (-3.0,0.00044) (-2.8,0.0011) (-2.6,0.0025) (-2.5,0.0038) (-2.4,0.0055)
(-2.3,0.0080) (-2.2,0.0114) (-2.1,0.0159) (-2.0,0.0219) (-1.9,0.0297) (-1.8,0.0397) (-1.7,0.0522) (-1.6,0.0675)
(-1.5,0.0860) (-1.4,0.1079) (-1.3,0.1332) (-1.2,0.1619) (-1.1,0.1938) (-1.0,0.2283) (-0.9,0.2649) (-0.8,0.3025)
(-0.7,0.3401) (-0.6,0.3764) (-0.5,0.4102) (-0.4,0.4401) (-0.3,0.4648) (-0.2,0.4833) (-0.1,0.4948) (0.0,0.4987)
(0.1,0.4948) (0.2,0.4833) (0.3,0.4648) (0.4,0.4401) (0.5,0.4102) (0.6,0.3764) (0.7,0.3401) (0.8,0.3025)
(0.9,0.2649) (1.0,0.2283) (1.1,0.1938) (1.2,0.1619) (1.3,0.1332) (1.4,0.1079) (1.5,0.0860) (1.6,0.0675)
(1.7,0.0522) (1.8,0.0397) (1.9,0.0297) (2.0,0.0219) (2.1,0.0159) (2.2,0.0114) (2.3,0.0080) (2.4,0.0055)
(2.5,0.0038) (2.6,0.0025) (2.8,0.0011) (3.0,0.00044) (3.3,0.0001) (3.6,0.00002) (4.0,0.0000) (4.77,0.0000)
};
\end{axis}
\end{tikzpicture}
\end{document}
